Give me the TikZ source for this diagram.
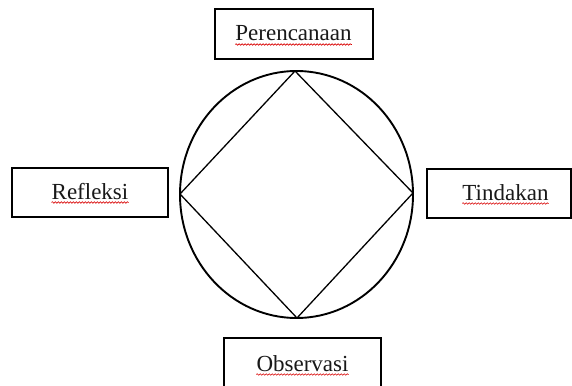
\documentclass[tikz,border=0pt]{standalone}
\usepackage{fontspec}
\setmainfont{Liberation Serif}
\usetikzlibrary{decorations.pathmorphing,shapes.geometric}
\begin{document}
\begin{tikzpicture}[x=1pt,y=-1pt,
  box/.style={draw=black,line width=2.2pt,fill=white,inner sep=0pt},
  lbl/.style={inner sep=0pt,anchor=base,font=\fontsize{23}{27}\selectfont,text=black!90},
  squig/.style={draw=red!85!black,line width=0.6pt,decorate,decoration={snake,segment length=3pt,amplitude=0.8pt}}]
\useasboundingbox (0,0) rectangle (572,385);
\clip (0,0) rectangle (572,385);
% circle and diamond
\node[draw,ellipse,line width=1.9pt,minimum width=233pt,minimum height=247pt,inner sep=0pt] (c) at (296.5,194.5) {};
\coordinate (t) at (295,71);
\coordinate (r) at (413,193);
\coordinate (b) at (297,318);
\coordinate (l) at (180,194);
\draw[line width=1.3pt,line join=miter] (t) -- (r) -- (b) -- (l) -- cycle;
% boxes
\node[box,minimum width=158pt,minimum height=50pt] (p) at (294,34) {};
\node[box,minimum width=156pt,minimum height=49pt] (rf) at (90,192.5) {};
\node[box,minimum width=144pt,minimum height=49pt] (td) at (499,193.5) {};
\node[box,minimum width=157pt,minimum height=50pt] (ob) at (302.5,363) {};
% labels
\node[lbl] (pt) at (293.5,41) {Perencanaan};
\node[lbl] (rt) at (90,199) {Refleksi};
\node[lbl] (tt) at (505.5,200) {Tindakan};
\node[lbl] (ot) at (302.5,371) {Observasi};
% spell-check underlines
\foreach \n in {pt,rt,tt,ot}{
  \draw[squig] ([yshift=-3.5pt]\n.base west) -- ([yshift=-3.5pt]\n.base east);
}
\end{tikzpicture}
\end{document}
